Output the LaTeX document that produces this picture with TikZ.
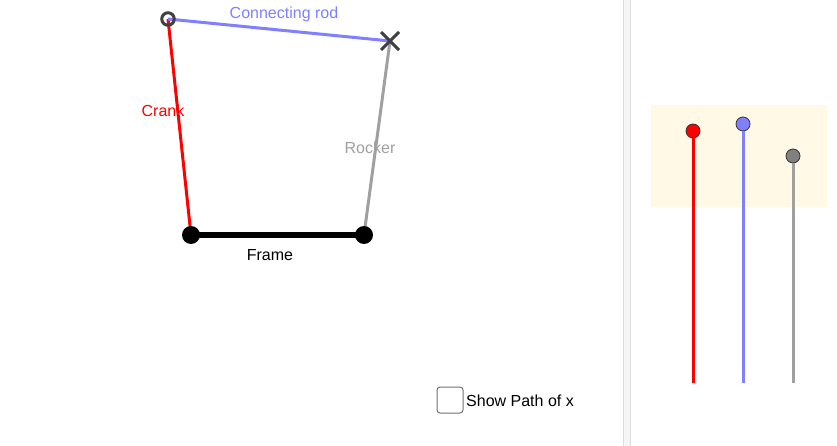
\documentclass[tikz,border=0pt]{standalone}
\usepackage{fontspec}
\setmainfont{Liberation Sans}
\usetikzlibrary{shapes.misc}
\definecolor{rodblue}{HTML}{7F7FFF}
\definecolor{rockgray}{HTML}{A0A0A0}
\definecolor{darkmark}{HTML}{404040}
\definecolor{panelbg}{HTML}{FFF9E6}
\definecolor{divfill}{HTML}{F5F5F5}
\definecolor{divline}{HTML}{DDDDDD}
\definecolor{boxgray}{HTML}{707070}
\tikzset{
  pin/.style={circle,fill=black,inner sep=0pt,minimum size=18pt},
  lbl/.style={font=\fontsize{16}{19}\selectfont,inner sep=0pt},
  knob/.style={circle,draw=black!80,line width=0.8pt,inner sep=0pt,minimum size=14pt},
  bar/.style={line width=3pt},
}
\begin{document}
\begin{tikzpicture}[x=1pt,y=-1pt]
\useasboundingbox (0,0) rectangle (837,446);
% divider
\fill[divfill] (623,0) rectangle (631,446);
\draw[divline,line width=1pt] (623.5,0) -- (623.5,446);
\draw[divline,line width=1pt] (630.5,0) -- (630.5,446);
% linkage points
\coordinate (A) at (191,235);
\coordinate (B) at (364,235);
\coordinate (C) at (168,19);
\coordinate (D) at (390,41);
% links
\draw[red,line width=3pt] (A) -- (C);
\draw[rockgray,line width=3pt] (B) -- (D);
\draw[rodblue,line width=3pt] (C) -- (D);
\draw[black,line width=6pt] (A) -- (B);
\node[pin] (pA) at (A) {};
\node[pin] (pB) at (B) {};
\node[circle,draw=darkmark,line width=3pt,fill=none,inner sep=0pt,minimum size=12.5pt] (pC) at (C) {};
\node[cross out,draw=darkmark,line width=3pt,inner sep=0pt,minimum size=15pt] (pD) at (D) {};
% labels
\node[lbl,text=rodblue] (lrod) at (284,14) {Connecting rod};
\node[lbl,text=red] (lcrank) at (163,111) {Crank};
\node[lbl,text=rockgray] (lrock) at (370,148) {Rocker};
\node[lbl,text=black] (lframe) at (270,255) {Frame};
% checkbox
\node[draw=boxgray,line width=1pt,rounded corners=3pt,minimum size=26pt,inner sep=0pt] (cb) at (450,400) {};
\node[lbl,anchor=west] (cbl) at (466,401) {Show Path of x};
% right panel
\fill[panelbg] (651,105) rectangle (827,207);
\coordinate (r0) at (693,383);
\coordinate (b0) at (743,383);
\coordinate (g0) at (793,383);
\node[knob,fill=red] (r1) at (693,131) {};
\node[knob,fill=rodblue] (b1) at (743,124) {};
\node[knob,fill=gray] (g1) at (793,156) {};
\draw[red,bar] (r0) -- (r1);
\draw[rodblue,bar] (b0) -- (b1);
\draw[rockgray,bar] (g0) -- (g1);
\end{tikzpicture}
\end{document}
